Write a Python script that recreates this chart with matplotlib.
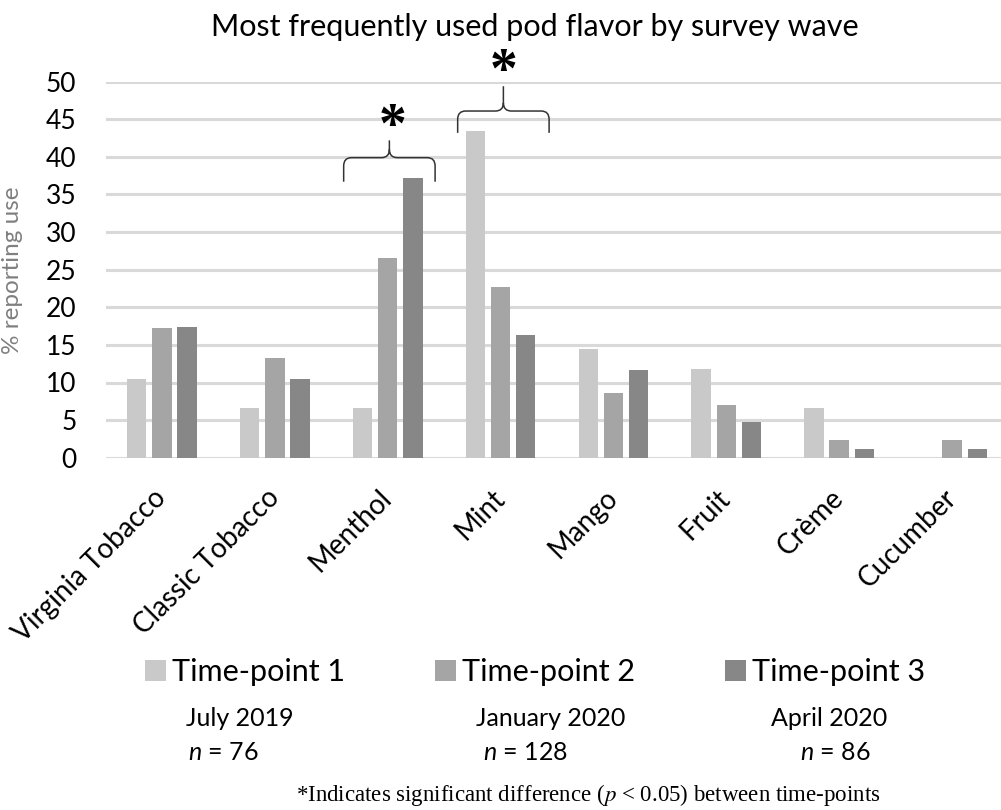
import matplotlib
matplotlib.use("Agg")
import matplotlib.pyplot as plt
from matplotlib.path import Path
from matplotlib.patches import PathPatch, Patch

# Survey data: % reporting each pod flavor as most frequently used
flavors = ["Virginia Tobacco", "Classic Tobacco", "Menthol", "Mint",
           "Mango", "Fruit", "Crème", "Cucumber"]
tp1 = [10.5, 6.6, 6.6, 43.4, 14.5, 11.8, 6.6, 0.0]      # July 2019, n = 76
tp2 = [17.2, 13.3, 26.6, 22.7, 8.6, 7.0, 2.3, 2.3]      # January 2020, n = 128
tp3 = [17.4, 10.5, 37.2, 16.3, 11.6, 4.7, 1.2, 1.2]     # April 2020, n = 86
series_labels = ["Time-point 1", "Time-point 2", "Time-point 3"]
wave_dates = ["July 2019", "January 2020", "April 2020"]
wave_n = [76, 128, 86]
yticks = [0, 5, 10, 15, 20, 25, 30, 35, 40, 45, 50]

colors = ["#c9c9c9", "#a5a5a5", "#878787"]
FONT = "Lato"
plt.rcParams["mathtext.fontset"] = "custom"
plt.rcParams["mathtext.it"] = "Lato:italic"
plt.rcParams["mathtext.rm"] = "Lato"

W, H = 1001, 810
fig = plt.figure(figsize=(W / 100, H / 100), dpi=100)
fig.patch.set_facecolor("white")

def fx(px):
    return px / W

def fy(py):
    return (H - py) / H

left, right, bottom, top = 105.5, 1008.5, 457.7, 81.7
ax = fig.add_axes([fx(left), fy(bottom), fx(right - left), (bottom - top) / H])

x = list(range(len(flavors)))
step, width = 0.223, 0.172
for i, (vals, c, lab) in enumerate(zip([tp1, tp2, tp3], colors, series_labels)):
    ax.bar([xi + (i - 1) * step for xi in x], vals, width=width, color=c,
           label=lab, zorder=3)

ax.set_xlim(-0.5, 7.5)
ax.set_ylim(0, 50)
ax.set_yticks(yticks)
ax.set_yticklabels([str(t) for t in yticks], fontsize=19, family=FONT)
ax.yaxis.grid(True, color="#d9d9d9", linewidth=2.2, zorder=0)
ax.set_axisbelow(True)
for s in ax.spines.values():
    s.set_visible(False)
ax.tick_params(axis="y", length=0, pad=21)
ax.tick_params(axis="x", length=0, pad=26)
ax.set_xticks(x)
ax.set_xticklabels(flavors, rotation=45, ha="right", va="center",
                   rotation_mode="anchor", fontsize=20, family=FONT)

ax.set_ylabel("% reporting use", fontsize=17.5, color="#7f7f7f", family=FONT)
ax.yaxis.set_label_coords((22.7 - left) / (right - left),
                          (bottom - 270) / (bottom - top))

fig.text(fx(535), fy(27), "Most frequently used pod flavor by survey wave",
         ha="center", va="center", fontsize=22, family=FONT)


def brace(ax, x0, x1, y_end, y_bar, y_tip, rx=0.07, ry=1.1):
    xc = (x0 + x1) / 2
    verts = [(x0, y_end), (x0, y_bar - ry), (x0, y_bar), (x0 + rx, y_bar),
             (xc - rx, y_bar), (xc, y_bar), (xc, y_bar + ry), (xc, y_tip),
             (xc, y_bar + ry), (xc, y_bar), (xc + rx, y_bar),
             (x1 - rx, y_bar), (x1, y_bar), (x1, y_bar - ry), (x1, y_end)]
    codes = [Path.MOVETO, Path.LINETO, Path.CURVE3, Path.CURVE3,
             Path.LINETO, Path.CURVE3, Path.CURVE3, Path.LINETO,
             Path.MOVETO, Path.CURVE3, Path.CURVE3,
             Path.LINETO, Path.CURVE3, Path.CURVE3, Path.LINETO]
    ax.add_patch(PathPatch(Path(verts, codes), fill=False, lw=1.1,
                           edgecolor="#333333", clip_on=False, zorder=4))


# Significance brackets over Menthol and Mint
brace(ax, 1.61, 2.42, 36.7, 39.9, 42.2)
ax.text(2.04, 43.8, "*", ha="center", va="center", fontsize=40,
        family="Liberation Serif", weight="bold", clip_on=False)
brace(ax, 2.62, 3.43, 43.2, 46.1, 49.4)
ax.text(3.03, 51.1, "*", ha="center", va="center", fontsize=40,
        family="Liberation Serif", weight="bold", clip_on=False)

handles = [Patch(facecolor=c) for c in colors]
fig.legend(handles, series_labels, ncol=3, loc="center",
           bbox_to_anchor=(fx(535), fy(672)), frameon=False,
           prop={"family": FONT, "size": 22}, handlelength=0.68,
           handleheight=0.68, handletextpad=0.2, columnspacing=2.95)

date_x = [240, 551, 829]
n_x = [223, 525, 835]
for dx, nx, d, n in zip(date_x, n_x, wave_dates, wave_n):
    fig.text(fx(dx), fy(718), d, ha="center", va="center", fontsize=18,
             family=FONT)
    fig.text(fx(nx), fy(752), rf"$\it{{n}}$ = {n}", ha="center", va="center",
             fontsize=18, family=FONT)

fig.text(fx(588), fy(795),
         "*Indicates significant difference ($\\it{p}$ < 0.05) between time-points",
         ha="center", va="center", fontsize=16.5, family="Liberation Serif",
         math_fontfamily="stix")

fig.savefig("out.png", dpi=100, facecolor="white")
